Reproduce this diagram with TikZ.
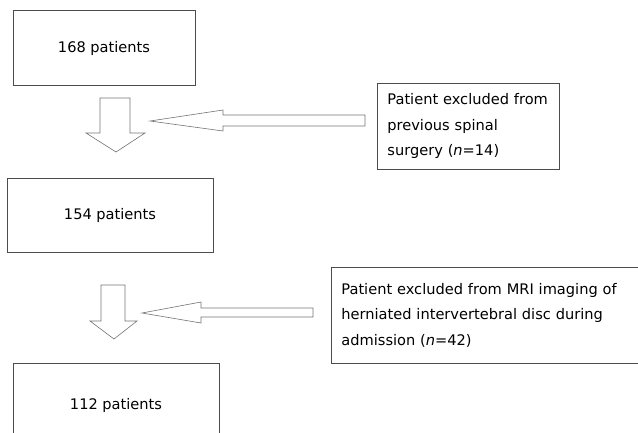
\documentclass[tikz,border=0pt]{standalone}
\usepackage{fontspec}
\setmainfont{DejaVu Sans}

\begin{document}
\begin{tikzpicture}
[%%%%%%%%%%%%%%%%%%%%%%%%%%%%%%
x=1pt,y=-1pt,
box/.style={rectangle,draw=black!70,line width=0.8pt,inner sep=0pt,font=\fontsize{14.6}{25.5}\selectfont},
exclbox/.style={box,anchor=north west,align=left,inner xsep=10pt},
blockarrow/.style={draw=black!55,line width=0.6pt,line join=miter},
]%%%%%%%%%%%%%%%%%%%%%%%%%%%%%%
\useasboundingbox (0,0) rectangle (638,432);

\node[box,minimum width=182pt,minimum height=75pt] (all) at (104,48){168 patients};
\node[box,minimum width=206pt,minimum height=74pt] (after1) at (110,215){154 patients};
\node[box,minimum width=206pt,minimum height=84pt] (final) at (116,405){112 patients};

\node[exclbox,text width=162pt,minimum height=86pt] (excl1) at (377,83)
{Patient excluded from\\previous spinal\\surgery (\textit{n}=14)};
\node[exclbox,text width=320pt,minimum height=96pt] (excl2) at (331,267)
{Patient excluded from MRI imaging of\\herniated intervertebral disc during\\admission (\textit{n}=42)};

% down arrows
\draw[blockarrow] (100,98) -- (130,98) -- (130,133) -- (145,133) -- (116,152) -- (86,133) -- (100,133) -- cycle;
\draw[blockarrow] (101,285) -- (125,285) -- (125,321) -- (137,321) -- (114,339) -- (90,321) -- (101,321) -- cycle;

% left arrows
\draw[blockarrow] (365,115) -- (223,115) -- (223,110) -- (150,121) -- (223,131) -- (223,126) -- (365,126) -- cycle;
\draw[blockarrow] (313,308) -- (201,308) -- (201,302) -- (142,313) -- (201,323) -- (201,317) -- (313,317) -- cycle;
\end{tikzpicture}
\end{document}
